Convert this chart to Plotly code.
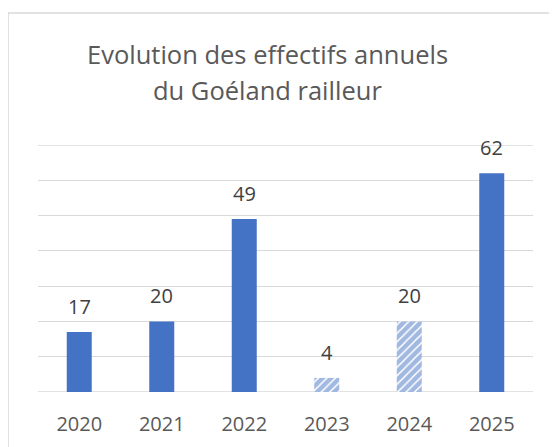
import plotly.graph_objects as go

years = ["2020", "2021", "2022", "2023", "2024", "2025"]
counts = [17, 20, 49, 4, 20, 62]
patterns = ["", "", "", "/", "/", ""]
title_lines = ["Evolution des effectifs annuels", "du Goéland railleur"]

BLUE = "#4472C4"
GRID = "#d9d9d9"
Y_MAX = 70

fig = go.Figure()
fig.add_trace(go.Bar(
    x=years, y=counts,
    marker=dict(
        color=BLUE,
        line=dict(width=0),
        pattern=dict(shape=patterns, fgcolor=BLUE, bgcolor="white", size=6, solidity=0.75),
    ),
    hoverinfo="skip",
))

for i, v in enumerate(counts):
    fig.add_annotation(x=i, y=v, xref="x", yref="y", text=str(v), showarrow=False, yanchor="bottom",
                       yshift=10, font=dict(family="Open Sans", size=20, color="#404040"))

for j, line in enumerate(title_lines):
    fig.add_annotation(x=(267 - 38) / 495, y=(392 - (54 + 36 * j)) / 247, xref="paper", yref="paper",
                       text=line, showarrow=False, xanchor="center", yanchor="middle",
                       font=dict(family="Open Sans", size=25.5, color="#595959"))

# page body adds an 8px offset; margins compensate so the plot area lands where intended
fig.update_layout(
    width=557, height=447,
    margin=dict(l=30, r=32, t=137, b=63, autoexpand=False),
    paper_bgcolor="white", plot_bgcolor="white",
    bargap=0.697,
    showlegend=False,
    xaxis=dict(type="category", range=[-0.5, 5.5], autorange=False, showgrid=False, showline=False,
               zeroline=False, ticks="outside", ticklen=14, tickcolor="rgba(0,0,0,0)",
               tickfont=dict(family="Open Sans", size=20, color="#595959")),
    yaxis=dict(range=[0, Y_MAX], autorange=False, dtick=10, showgrid=True, gridcolor=GRID, gridwidth=1.3,
               showticklabels=False, zeroline=False, showline=False),
)

# edge gridlines (0 and max) are not drawn by plotly at the plot boundary
for yv in (0, Y_MAX):
    fig.add_shape(type="line", xref="paper", yref="y", x0=0, x1=1, y0=yv, y1=yv,
                  line=dict(color=GRID, width=1.3), layer="below")

fig.add_shape(type="rect", xref="paper", yref="paper",
              x0=(8 - 38) / 495, x1=(575 - 38) / 495,
              y0=(392 - 470) / 247, y1=(392 - 13) / 247,
              line=dict(color=GRID, width=1.5), fillcolor="rgba(0,0,0,0)", layer="below")

fig.write_html("out.html")
